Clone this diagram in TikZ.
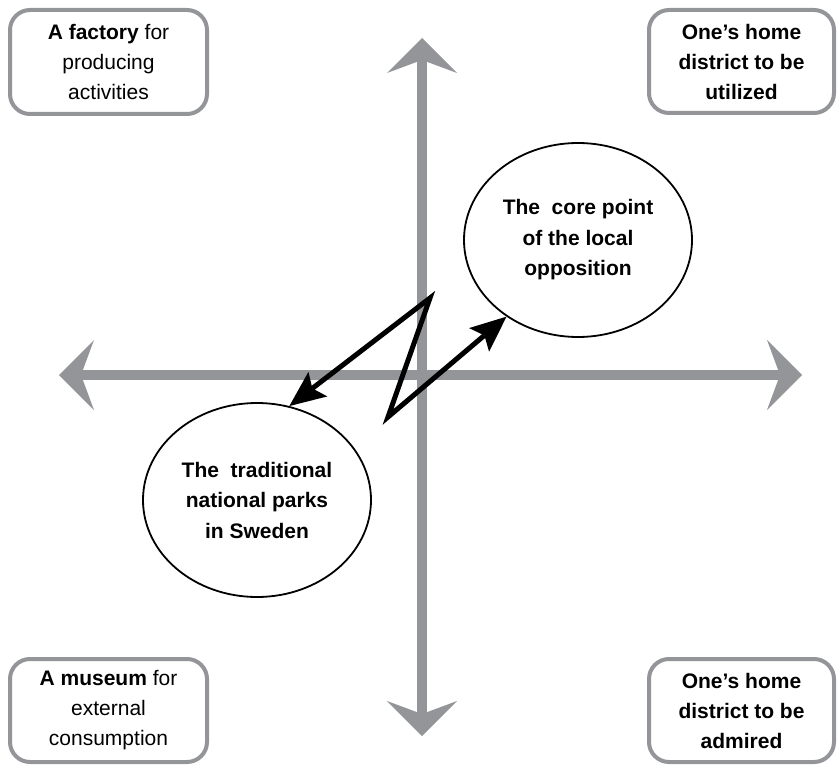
\documentclass[tikz,border=0pt]{standalone}
\usepackage{fontspec}
\setmainfont{Liberation Sans}
\usetikzlibrary{arrows.meta,shapes.geometric}
\definecolor{axisgray}{RGB}{147,149,152}

\begin{document}
\begin{tikzpicture}[x=1pt,y=-1pt,
  axishead/.tip={Stealth[length=35pt,width=70pt,inset=13pt,line width=0pt]},
  linkhead/.tip={Stealth[length=36pt,width=31pt,inset=7pt,line width=0pt]},
  axis/.style={draw=axisgray, line width=10pt, axishead-axishead},
  label/.style={font=\fontsize{21}{30}\selectfont, align=center, inner sep=0pt},
  corner/.style={label, rectangle, draw=axisgray, line width=4pt,
    rounded corners=20pt, fill=white},
  bubble/.style={label, font=\fontsize{21}{30.5}\selectfont\bfseries,
    ellipse, draw=black, line width=1.8pt, fill=white,
    minimum width=228pt, minimum height=194pt},
  link/.style={draw=black, line width=5pt, line join=miter, linkhead-linkhead}
]
\useasboundingbox (0,0) rectangle (838,765);

% axes
\coordinate (N) at (422,38);
\coordinate (S) at (422,736);
\coordinate (W) at (59,375);
\coordinate (E) at (802,375);
\draw[axis] (S) -- (N);
\draw[axis] (W) -- (E);

% quadrant labels
\node[corner, minimum width=197pt, minimum height=104pt] (factory) at (108.5,62)
  {\textbf{A factory} for\\producing\\activities};
\node[corner, minimum width=185pt, minimum height=103pt] (utilized) at (741.5,61.5)
  {\textbf{One’s home}\\\textbf{district to be}\\\textbf{utilized}};
\node[corner, minimum width=197pt, minimum height=103pt] (museum) at (108.5,710.5)
  {\textbf{A museum} for\\external\\consumption};
\node[corner, minimum width=185pt, minimum height=103pt] (admired) at (741.5,710.5)
  {\textbf{One’s home}\\\textbf{district to be}\\\textbf{admired}};

% positions in the plane
\node[bubble] (core) at (578,240)
  {The\ \ core point\\of the local\\opposition};
\node[bubble] (trad) at (257,500)
  {The\ \ traditional\\national parks\\in Sweden};

% zigzag link between the two positions
\coordinate (bendA) at (430,298);
\coordinate (bendB) at (388,417);
\draw[link] (trad.71.4) -- (bendA) -- (bendB) -- (core.227);
\end{tikzpicture}
\end{document}
